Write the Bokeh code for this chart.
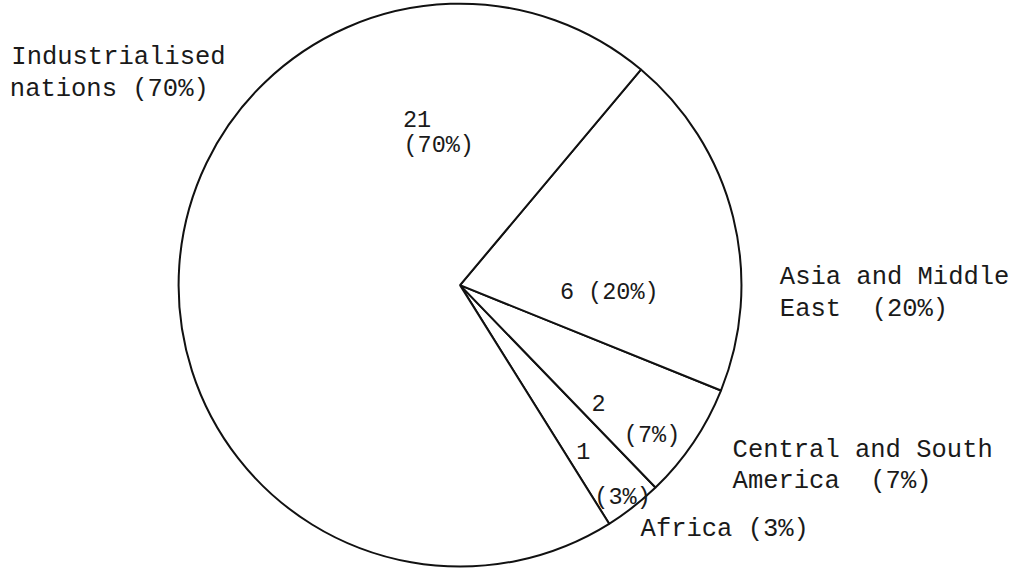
import numpy as np
from bokeh.plotting import figure
from bokeh.models import Range1d, ColumnDataSource
from bokeh.core.properties import value
from bokeh.embed import file_html
from bokeh.resources import INLINE

# ---- data ----
categories = ["Africa", "Central and South America", "Asia and Middle East", "Industrialised nations"]
values = [1, 2, 6, 21]
percents = [3, 7, 20, 70]

NB = "\u00a0"
# outer label texts (line breaks as in the reference)
outer_labels = ["Africa (3%)",
                "Central and South\nAmerica" + NB + NB + "(7%)",
                "Asia and Middle\nEast" + NB + NB + "(20%)",
                "Industrialised\nnations (70%)"]
# inner label texts
inner_labels = ["1\n(3%)", "2\n(7%)", "6 (20%)", "21\n(70%)"]

# ---- layout (reference pixel coordinates, y downward) ----
W, H = 1033, 585
S = 0.984                      # uniform scale so the whole drawing fits 1017x569
cx, cy, R = 467, 295, 286
start_deg = -58.0

outer_pos = [[(650.5, 543.5)],
             [(744, 463.5), (744, 495)],
             [(792, 287), (792, 319.5)],
             [(11, 64), (9.5, 96.5)]]
inner_pos = [[(585, 464), (603.5, 511)],
             [(600.5, 415), (633.5, 447.5)],
             [(568.5, 303)],
             [(409, 126), (409.5, 153)]]

def fy(py):
    return H - py

vals = np.array(values, dtype=float)
fr = vals / vals.sum()
cum = np.concatenate([[0.0], np.cumsum(fr)])
start = np.deg2rad(start_deg) + cum[:-1] * 2 * np.pi
end = np.deg2rad(start_deg) + cum[1:] * 2 * np.pi

src = ColumnDataSource(dict(cat=categories, val=values, start=start, end=end,
                            x=[cx] * len(values), y=[fy(cy)] * len(values)))

FW, FH = 1017, 569
y0 = 1.0
p = figure(width=FW, height=FH,
           x_range=Range1d(0, FW / S), y_range=Range1d(y0, y0 + FH / S),
           output_backend="svg", toolbar_location=None, min_border=0)
p.xaxis.visible = False
p.yaxis.visible = False
p.grid.visible = False
p.outline_line_color = None
p.background_fill_color = "white"
p.border_fill_color = "white"

p.wedge(x="x", y="y", radius=R, start_angle="start", end_angle="end", source=src,
        fill_color="white", line_color="#111111", line_width=2)

def add_lines(labels, positions, size):
    xs, ys, ts = [], [], []
    for lab, pos in zip(labels, positions):
        for line, (px, py) in zip(lab.split("\n"), pos):
            xs.append(px)
            ys.append(fy(py))
            ts.append(line)
    p.text(x=xs, y=ys, text=ts, text_font=value("Liberation Mono"),
           text_font_size=value(size), text_baseline="alphabetic",
           text_align="left", text_color="#1a1a1a")

add_lines(outer_labels, outer_pos, "25.5px")
add_lines(inner_labels, inner_pos, "23.5px")

open("out.html", "w").write(file_html(p, INLINE))
